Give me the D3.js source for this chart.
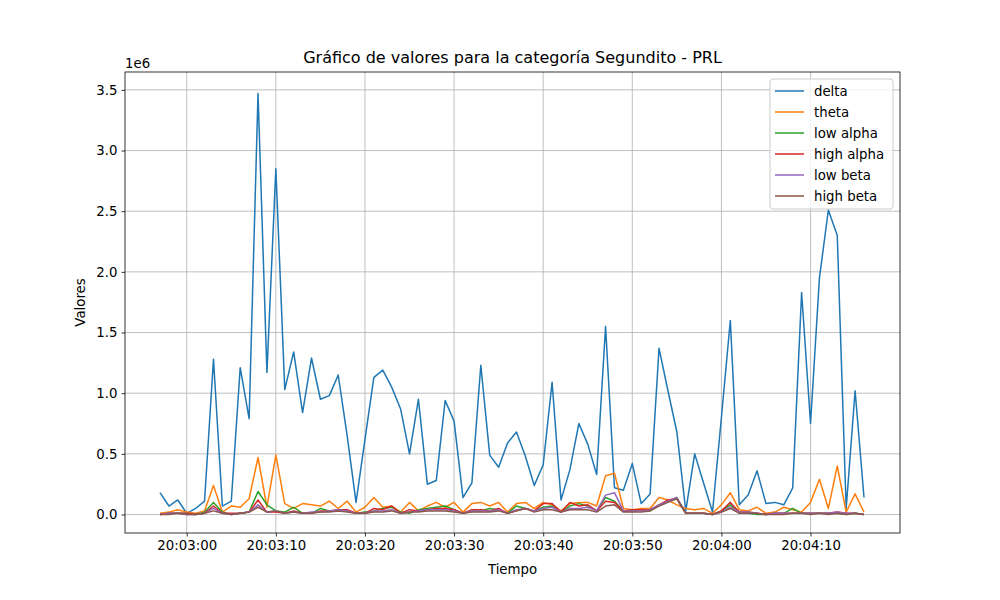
<!DOCTYPE html>
<html><head><meta charset="utf-8">
<script src="https://cdn.jsdelivr.net/npm/d3@7"></script>
<style>body{margin:0;background:#fff}svg{font-family:"DejaVu Sans",sans-serif}</style>
</head><body><svg id="c" width="1000" height="600"></svg>
<script>
const startTime = "2024-01-01T20:02:57";
const seriesNames = ["delta","theta","low alpha","high alpha","low beta","high beta"];
const colors = ["#1f77b4","#ff7f0e","#2ca02c","#d62728","#9467bd","#8c564b"];
const delta = [0.18,0.07,0.12,0.01,0.05,0.11,1.28,0.07,0.11,1.21,0.79,3.47,1.17,2.85,1.03,1.34,0.84,1.29,0.95,0.98,1.15,0.65,0.10,0.62,1.13,1.19,1.05,0.87,0.50,0.95,0.25,0.28,0.94,0.77,0.14,0.26,1.23,0.49,0.39,0.59,0.68,0.48,0.24,0.41,1.09,0.12,0.37,0.75,0.58,0.33,1.55,0.22,0.20,0.42,0.09,0.17,1.37,1.02,0.68,0.03,0.50,0.26,0.02,0.80,1.60,0.08,0.16,0.36,0.09,0.10,0.08,0.22,1.83,0.75,1.95,2.51,2.30,0.05,1.02,0.14];
const theta = [0.01,0.02,0.04,0.02,0.01,0.03,0.24,0.02,0.07,0.06,0.13,0.47,0.06,0.49,0.09,0.05,0.09,0.08,0.07,0.11,0.05,0.11,0.02,0.06,0.14,0.06,0.07,0.02,0.10,0.03,0.07,0.10,0.06,0.10,0.02,0.09,0.10,0.07,0.10,0.02,0.09,0.10,0.05,0.10,0.08,0.03,0.09,0.10,0.10,0.07,0.32,0.34,0.05,0.04,0.05,0.05,0.14,0.12,0.08,0.05,0.04,0.05,0.01,0.08,0.18,0.04,0.03,0.06,0.01,0.02,0.06,0.04,0.02,0.10,0.29,0.05,0.40,0.02,0.17,0.02];
const lowAlpha = [0.00,0.01,0.01,0.01,0.00,0.02,0.10,0.02,0.00,0.01,0.02,0.19,0.08,0.03,0.02,0.06,0.01,0.01,0.05,0.03,0.03,0.03,0.01,0.02,0.03,0.05,0.06,0.02,0.01,0.04,0.05,0.06,0.07,0.04,0.01,0.03,0.03,0.05,0.04,0.01,0.07,0.05,0.03,0.06,0.07,0.02,0.07,0.09,0.07,0.03,0.14,0.11,0.03,0.03,0.04,0.03,0.08,0.11,0.14,0.01,0.01,0.01,0.00,0.03,0.08,0.02,0.01,0.00,0.00,0.01,0.01,0.05,0.01,0.01,0.01,0.01,0.01,0.00,0.01,0.00];
const highAlpha = [0.00,0.01,0.01,0.01,0.00,0.01,0.07,0.01,0.01,0.01,0.02,0.12,0.02,0.02,0.01,0.03,0.01,0.01,0.03,0.03,0.04,0.04,0.01,0.01,0.05,0.04,0.07,0.01,0.04,0.03,0.04,0.05,0.05,0.04,0.01,0.04,0.04,0.03,0.05,0.01,0.03,0.05,0.03,0.09,0.09,0.02,0.10,0.07,0.08,0.03,0.11,0.10,0.03,0.04,0.04,0.04,0.08,0.12,0.13,0.01,0.01,0.01,0.00,0.03,0.10,0.02,0.02,0.01,0.00,0.01,0.01,0.01,0.01,0.01,0.01,0.01,0.02,0.01,0.01,0.00];
const lowBeta = [0.00,0.01,0.01,0.00,0.00,0.01,0.05,0.01,0.00,0.01,0.02,0.08,0.02,0.03,0.01,0.02,0.01,0.02,0.02,0.03,0.04,0.03,0.01,0.01,0.03,0.03,0.04,0.01,0.02,0.03,0.04,0.04,0.04,0.03,0.01,0.03,0.03,0.03,0.04,0.01,0.04,0.05,0.03,0.05,0.06,0.02,0.05,0.05,0.06,0.03,0.16,0.18,0.03,0.03,0.03,0.04,0.08,0.11,0.14,0.01,0.01,0.01,0.00,0.02,0.06,0.02,0.02,0.01,0.00,0.01,0.01,0.01,0.01,0.01,0.01,0.01,0.02,0.01,0.01,0.00];
const highBeta = [0.00,0.00,0.01,0.00,0.00,0.01,0.03,0.01,0.00,0.01,0.02,0.06,0.02,0.03,0.01,0.02,0.01,0.01,0.02,0.02,0.03,0.02,0.01,0.01,0.02,0.02,0.03,0.01,0.02,0.02,0.03,0.03,0.03,0.02,0.01,0.02,0.02,0.02,0.03,0.01,0.03,0.05,0.02,0.04,0.04,0.02,0.04,0.04,0.04,0.02,0.07,0.08,0.02,0.02,0.02,0.03,0.07,0.10,0.13,0.01,0.01,0.01,0.00,0.02,0.05,0.01,0.01,0.01,0.00,0.00,0.00,0.01,0.01,0.00,0.01,0.00,0.01,0.00,0.01,0.00];
const yTicks = [0,0.5,1,1.5,2,2.5,3,3.5];
const allSeries = [delta,theta,lowAlpha,highAlpha,lowBeta,highBeta];

const svg = d3.select("#c");
const L=125,R=900,T=72,B=533;
const t0 = new Date(startTime);
const times = delta.map((_,i)=>new Date(t0.getTime()+i*1000));
const x = d3.scaleTime().domain([t0, times[times.length-1]]).range([160,864]);
const y = d3.scaleLinear().domain([-0.15225,3.64725]).range([B,T]);
// grid
const xt = x.ticks(d3.timeSecond.every(10));
svg.append("g").selectAll("line").data(xt).join("line")
 .attr("x1",d=>x(d)).attr("x2",d=>x(d)).attr("y1",T).attr("y2",B).attr("stroke","#b0b0b0").attr("stroke-width",0.8);
svg.append("g").selectAll("line").data(yTicks).join("line")
 .attr("y1",d=>y(d)).attr("y2",d=>y(d)).attr("x1",L).attr("x2",R).attr("stroke","#b0b0b0").attr("stroke-width",0.8);
// lines
const line = d3.line().x((d,i)=>x(times[i])).y(d=>y(d*1)); 
allSeries.forEach((s,k)=>{
 svg.append("path").datum(s).attr("d",line).attr("fill","none").attr("stroke",colors[k]).attr("stroke-width",1.5).attr("stroke-linejoin","round");
});
// frame
svg.append("rect").attr("x",L).attr("y",T).attr("width",R-L).attr("height",B-T).attr("fill","none").attr("stroke","#000").attr("stroke-width",0.8);
// axes
const xa = svg.append("g").attr("transform",`translate(0,${B})`).call(d3.axisBottom(x).tickValues(xt).tickFormat(d3.timeFormat("%H:%M:%S")).tickSize(3.5).tickPadding(4));
const ya = svg.append("g").attr("transform",`translate(${L},0)`).call(d3.axisLeft(y).tickValues(yTicks).tickFormat(d3.format(".1f")).tickSize(3.5).tickPadding(4));
[xa,ya].forEach(a=>{a.select(".domain").remove();a.selectAll("text").attr("font-size",13.3).attr("font-family","DejaVu Sans").attr("fill","#000");a.selectAll("line").attr("stroke","#000").attr("stroke-width",0.8);});
svg.append("text").attr("x",L).attr("y",T-4).attr("font-size",13.3).text("1e6");
svg.append("text").attr("x",(L+R)/2).attr("y",T-9).attr("text-anchor","middle").attr("font-size",16).text("Gráfico de valores para la categoría Segundito - PRL");
svg.append("text").attr("x",(L+R)/2).attr("y",574).attr("text-anchor","middle").attr("font-size",13.3).text("Tiempo");
svg.append("text").attr("transform",`translate(85,${(T+B)/2}) rotate(-90)`).attr("text-anchor","middle").attr("font-size",13.3).text("Valores");
// legend
const lg = svg.append("g");
lg.append("rect").attr("x",770).attr("y",79).attr("width",123).attr("height",130).attr("rx",3).attr("fill","#fff").attr("fill-opacity",0.8).attr("stroke","#ccc");
seriesNames.forEach((n,k)=>{
 const yy = 91+k*21;
 lg.append("line").attr("x1",775).attr("x2",804).attr("y1",yy).attr("y2",yy).attr("stroke",colors[k]).attr("stroke-width",1.5);
 lg.append("text").attr("x",814).attr("y",yy+4.5).attr("font-size",13.3).text(n);
});
</script></body></html>
